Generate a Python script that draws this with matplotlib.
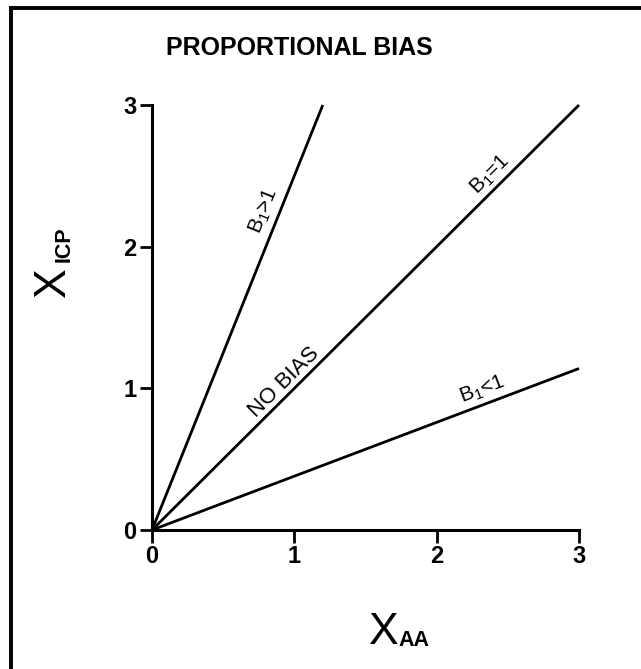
import numpy as np
import matplotlib
matplotlib.use("Agg")
import matplotlib.pyplot as plt
from matplotlib.lines import Line2D

plt.rcParams['font.family'] = ['Liberation Sans', 'DejaVu Sans']
plt.rcParams['mathtext.fontset'] = 'custom'
plt.rcParams['mathtext.rm'] = 'Liberation Sans'
plt.rcParams['mathtext.it'] = 'Liberation Sans'
plt.rcParams['mathtext.bf'] = 'Liberation Sans:bold'

# Data
title = "PROPORTIONAL BIAS"
slopes = [2.5, 1.0, 0.38]            # B1>1, B1=1, B1<1
x_ends = [1.2, 3.0, 3.0]
labels = [r"B$_1$>1", r"B$_1$=1", r"B$_1$<1"]
label_pos = [(0.79, 2.25), (2.38, 2.51), (2.32, 0.99)]
nobias_text = "NO BIAS"
nobias_pos = (0.93, 1.045)
ticks = [0, 1, 2, 3]
tick_labels = ["0", "1", "2", "3"]

W, H = 641, 669
fig = plt.figure(figsize=(W / 100, H / 100), dpi=100)
fig.patch.set_facecolor('white')

# outer frame (top and left edges visible)
fig.add_artist(Line2D([10.5 / W, 10.5 / W], [0, 1 - 7.5 / H], transform=fig.transFigure,
                      color='black', lw=2.8, solid_capstyle='projecting'))
fig.add_artist(Line2D([10.5 / W, 1], [1 - 7.5 / H, 1 - 7.5 / H], transform=fig.transFigure,
                      color='black', lw=2.8, solid_capstyle='projecting'))

ax_l, ax_r, ax_t, ax_b = 152, 579, 105, 530
ax = fig.add_axes([ax_l / W, 1 - ax_b / H, (ax_r - ax_l) / W, (ax_b - ax_t) / H])
ax.set_xlim(0, 3)
ax.set_ylim(0, 3)
for s in ['top', 'right']:
    ax.spines[s].set_visible(False)
for s in ['left', 'bottom']:
    ax.spines[s].set_linewidth(2.2)
ax.set_xticks(ticks)
ax.set_yticks(ticks)
ax.set_xticklabels(tick_labels)
ax.set_yticklabels(tick_labels)
ax.tick_params(direction='out', length=9, width=2, labelsize=17, pad=2)
for lab in ax.get_xticklabels() + ax.get_yticklabels():
    lab.set_fontweight('bold')

for m, xe in zip(slopes, x_ends):
    xs = np.array([0, xe])
    ax.plot(xs, m * xs, color='black', lw=2.0, clip_on=False, solid_capstyle='butt')

def screen_angle(m):
    p0 = ax.transData.transform((0, 0))
    p1 = ax.transData.transform((1, m))
    return np.degrees(np.arctan2(p1[1] - p0[1], p1[0] - p0[0]))

for m, lab, pos in zip(slopes, labels, label_pos):
    ax.text(pos[0], pos[1], lab, rotation=screen_angle(m), rotation_mode='anchor',
            ha='center', va='center', fontsize=15)
ax.text(nobias_pos[0], nobias_pos[1], nobias_text, rotation=screen_angle(1.0),
        rotation_mode='anchor', ha='center', va='center', fontsize=16)

# title
fig.text(299 / W, 1 - 48 / H, title, ha='center', va='center', fontsize=18, fontweight='bold')

# axis labels
fig.text(384 / W, 1 - 632 / H, "X", ha='center', va='center', fontsize=32)
fig.text(398 / W, 1 - 640 / H, "AA", ha='left', va='center', fontsize=15.5, fontweight='bold')
fig.text(54 / W, 1 - 282 / H, "X", ha='center', va='center', fontsize=32, rotation=90)
fig.text(64 / W, 1 - 262 / H, "ICP", ha='center', va='bottom', fontsize=15.5, fontweight='bold',
         rotation=90)

fig.savefig("out.png", dpi=100, facecolor='white')
